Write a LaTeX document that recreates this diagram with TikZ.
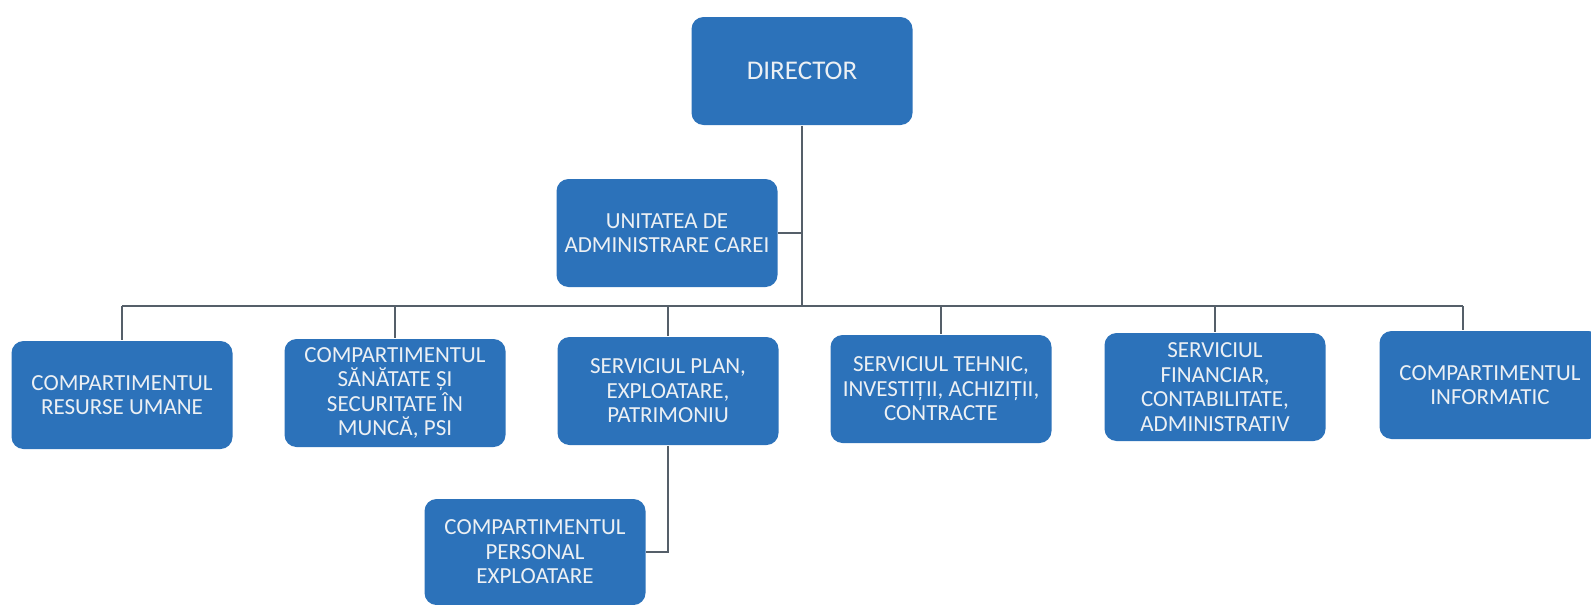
\documentclass[tikz,border=0pt]{standalone}
\usepackage{fontspec}
\setmainfont{Carlito}
\usetikzlibrary{positioning}
\definecolor{boxblue}{RGB}{44,114,186}
\definecolor{boxtext}{RGB}{236,240,244}
\definecolor{linegray}{RGB}{85,95,105}

\begin{document}
\begin{tikzpicture}[x=1pt,y=-1pt,draw=linegray,line width=1.8pt]
    \tikzstyle{unit}=[rectangle,rounded corners=12pt,fill=boxblue,draw=none,text=boxtext,minimum width=221pt,minimum height=108pt,align=center,inner sep=2pt,font=\fontsize{23}{24.5}\selectfont]
    \tikzstyle{head}=[unit,font=\fontsize{27}{29}\selectfont]

    \useasboundingbox (0,0) rectangle (1591,605);

    \node[head] (D) at (802,71) {DIRECTOR};
    \node[unit] (UAC) at (667,233) {UNITATEA DE\\ADMINISTRARE CAREI};

    % row of departments
    \node[unit] (RU)  at (122,395)  {COMPARTIMENTUL\\RESURSE UMANE};
    \node[unit] (SSM) at (395,393)  {COMPARTIMENTUL\\SĂNĂTATE ȘI\\SECURITATE ÎN\\MUNCĂ, PSI};
    \node[unit] (SPE) at (668,391)  {SERVICIUL PLAN,\\EXPLOATARE,\\PATRIMONIU};
    \node[unit] (STI) at (941,389)  {SERVICIUL TEHNIC,\\INVESTIȚII, ACHIZIȚII,\\CONTRACTE};
    \node[unit] (SFC) at (1215,387) {SERVICIUL\\FINANCIAR,\\CONTABILITATE,\\ADMINISTRATIV};
    \node[unit] (INF) at (1490,385) {COMPARTIMENTUL\\INFORMATIC};

    \node[unit,minimum height=106pt] (CPE) at (535,552) {COMPARTIMENTUL\\PERSONAL\\EXPLOATARE};

    \coordinate (busL) at (122,306);
    \coordinate (busR) at (1463,306);

    \draw (D.south) -- (D.south |- busL);
    \draw (D.south |- UAC.east) -- (UAC.east);
    \draw (busL) -- (busR);
    \foreach \n in {RU,SSM,SPE,STI,SFC}
        \draw (\n.north |- busL) -- (\n.north);
    \draw (busR) -- (busR |- INF.north);

    \draw (SPE.south) |- (CPE.east);
\end{tikzpicture}
\end{document}
